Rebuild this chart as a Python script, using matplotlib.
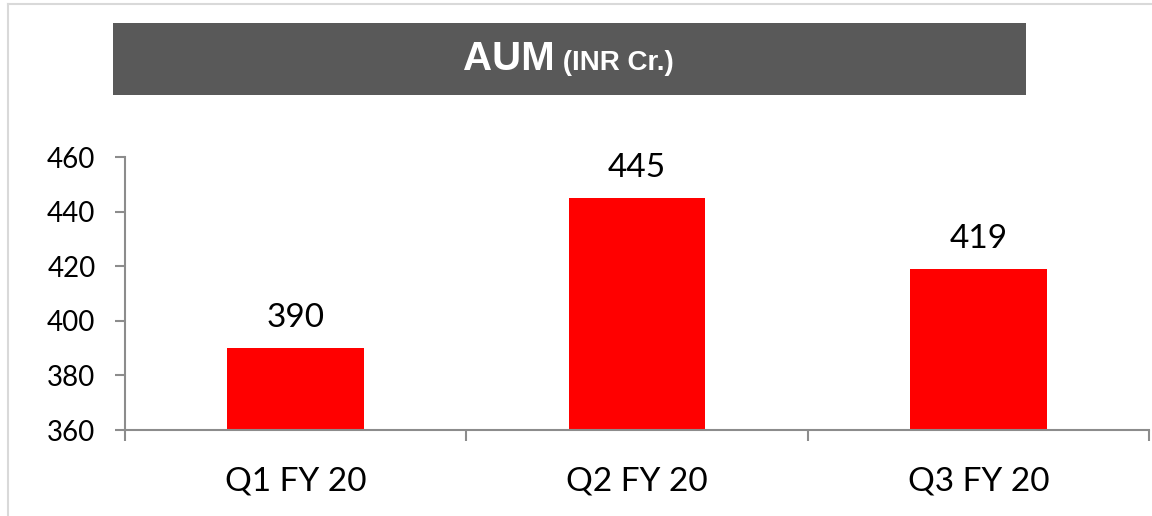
import matplotlib.pyplot as plt
from matplotlib.patches import Rectangle
from matplotlib.lines import Line2D

categories = ["Q1 FY 20", "Q2 FY 20", "Q3 FY 20"]
aum = [390, 445, 419]
yticks = [360, 380, 400, 420, 440, 460]

plt.rcParams['font.family'] = ['Lato', 'DejaVu Sans']
axis_col = "#8c8c8c"

fig = plt.figure(figsize=(11.52, 5.16), dpi=100)

# outer light border (only top and left visible in the crop)
fig.add_artist(Line2D([8/1152, 1], [1 - 4/516, 1 - 4/516],
                      transform=fig.transFigure, color="#d9d9d9", lw=1.5))
fig.add_artist(Line2D([8/1152, 8/1152], [0, 1 - 4/516],
                      transform=fig.transFigure, color="#d9d9d9", lw=1.5))

# title box
fig.add_artist(Rectangle((113/1152, 1 - 95/516), 913/1152, 72/516,
                         transform=fig.transFigure, facecolor="#595959",
                         edgecolor="none"))
title_x = 555/1152
fig.text(title_x, 1 - 70/516, "AUM", ha="right", va="baseline",
         color="white", fontsize=29, fontweight="bold",
         family="Liberation Sans")
fig.text(title_x, 1 - 70/516, " (INR Cr.)", ha="left", va="baseline",
         color="white", fontsize=20, fontweight="bold",
         family="Liberation Sans")

ax = fig.add_axes([125/1152, 1 - 430/516, 1024/1152, 273/516])
x = list(range(len(categories)))
ax.bar(x, [v - yticks[0] for v in aum], bottom=yticks[0], width=0.4,
       color="#ff0000")
for xi, v in zip(x, aum):
    ax.annotate(str(v), (xi, v), xytext=(0, 15), textcoords="offset points",
                ha="center", va="baseline", fontsize=24)

ax.set_xlim(-0.5, 2.5)
ax.set_ylim(360, 460)
ax.set_yticks(yticks)
ax.set_xticks(x)
ax.set_xticklabels(categories)
ax.set_xticks([-0.5, 0.5, 1.5, 2.5], minor=True)
ax.tick_params(axis="x", which="major", length=0, pad=26, labelsize=24)
ax.tick_params(axis="x", which="minor", length=8, width=1.5, color=axis_col,
               direction="out")
ax.tick_params(axis="y", length=7.2, width=1.5, color=axis_col, pad=14,
               labelsize=20)
for s in ["top", "right"]:
    ax.spines[s].set_visible(False)
for s in ["left", "bottom"]:
    ax.spines[s].set_color(axis_col)
    ax.spines[s].set_linewidth(1.5)

fig.savefig("out.png", dpi=100)
